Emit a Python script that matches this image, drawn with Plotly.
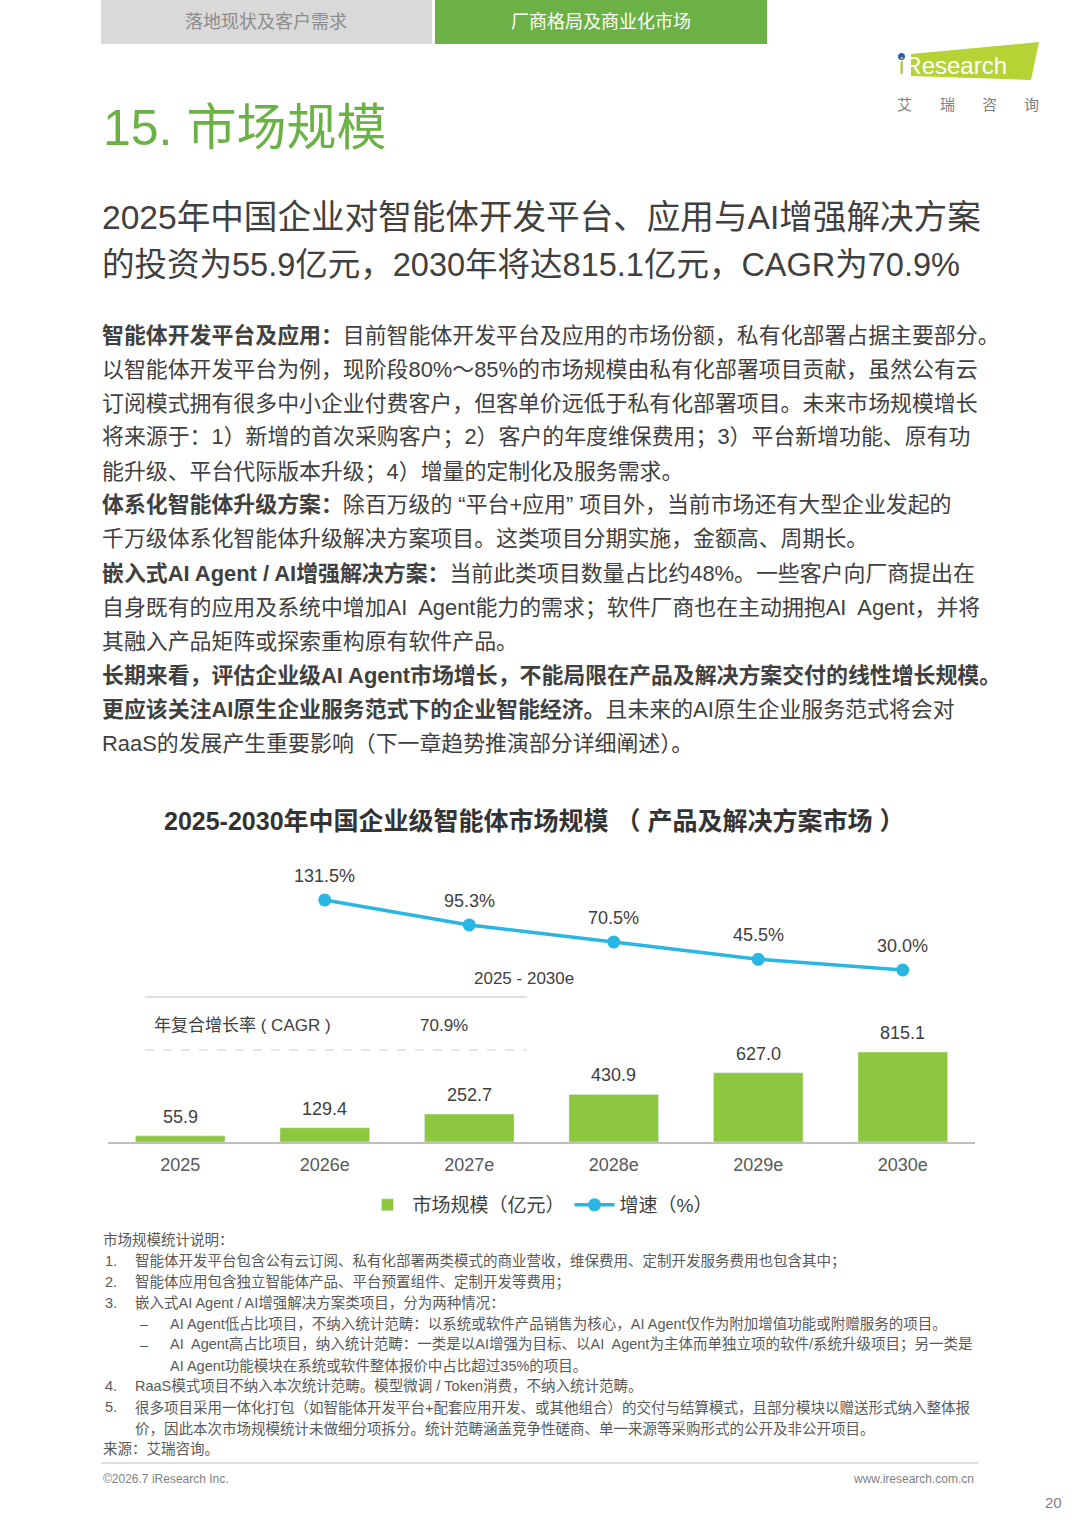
# =============================================================
# 市場規模ページ（iResearch 風レポート）を plotly で 1 枚に再現する
# =============================================================
# ページ全体を 1080x1528 の figure にして、本文はすべて annotation、
# グラフ部分は棒（市場規模）＋折れ線（増速）の 2 軸構成で描く。
# =============================================================

import plotly.graph_objects as go

PAGE_W = 1080
PAGE_H = 1528

# --- データ -------------------------------------------------
years = ["2025", "2026e", "2027e", "2028e", "2029e", "2030e"]
market_size = [55.9, 129.4, 252.7, 430.9, 627.0, 815.1]       # 亿元
growth_rate = [None, 131.5, 95.3, 70.5, 45.5, 30.0]           # %
cagr_period = "2025 - 2030e"
cagr_label = "年复合增长率 ( CAGR )"
cagr_value = 70.9

bar_name = "市场规模（亿元）"
line_name = "增速（%）"
chart_title = "2025-2030年中国企业级智能体市场规模 （ 产品及解决方案市场 ）"

tab_labels = ["落地现状及客户需求", "厂商格局及商业化市场"]
page_title = "15. 市场规模"
headline = [
    "2025年中国企业对智能体开发平台、应用与AI增强解决方案",
    "的投资为55.9亿元，2030年将达815.1亿元，CAGR为70.9%",
]
body_lines = [
    "<b>智能体开发平台及应用：</b>目前智能体开发平台及应用的市场份额，私有化部署占据主要部分。",
    "以智能体开发平台为例，现阶段80%～85%的市场规模由私有化部署项目贡献，虽然公有云",
    "订阅模式拥有很多中小企业付费客户，但客单价远低于私有化部署项目。未来市场规模增长",
    "将来源于：1）新增的首次采购客户；2）客户的年度维保费用；3）平台新增功能、原有功",
    "能升级、平台代际版本升级；4）增量的定制化及服务需求。",
    "<b>体系化智能体升级方案：</b>除百万级的 “平台+应用” 项目外，当前市场还有大型企业发起的",
    "千万级体系化智能体升级解决方案项目。这类项目分期实施，金额高、周期长。",
    "<b>嵌入式AI Agent / AI增强解决方案：</b>当前此类项目数量占比约48%。一些客户向厂商提出在",
    "自身既有的应用及系统中增加AI  Agent能力的需求；软件厂商也在主动拥抱AI  Agent，并将",
    "其融入产品矩阵或探索重构原有软件产品。",
    "<b>长期来看，评估企业级AI Agent市场增长，不能局限在产品及解决方案交付的线性增长规模。</b>",
    "<b>更应该关注AI原生企业服务范式下的企业智能经济。</b>且未来的AI原生企业服务范式将会对",
    "RaaS的发展产生重要影响（下一章趋势推演部分详细阐述）。",
]
# (番号, 本文, インデント種別)
note_lines = [
    ("1.", "智能体开发平台包含公有云订阅、私有化部署两类模式的商业营收，维保费用、定制开发服务费用也包含其中；", "num"),
    ("2.", "智能体应用包含独立智能体产品、平台预置组件、定制开发等费用；", "num"),
    ("3.", "嵌入式AI Agent / AI增强解决方案类项目，分为两种情况：", "num"),
    ("–", "AI Agent低占比项目，不纳入统计范畴：以系统或软件产品销售为核心，AI Agent仅作为附加增值功能或附赠服务的项目。", "dash"),
    ("–", "AI  Agent高占比项目，纳入统计范畴：一类是以AI增强为目标、以AI  Agent为主体而单独立项的软件/系统升级项目；另一类是", "dash"),
    ("", "AI Agent功能模块在系统或软件整体报价中占比超过35%的项目。", "dash"),
    ("4.", "RaaS模式项目不纳入本次统计范畴。模型微调 / Token消费，不纳入统计范畴。", "num"),
    ("5.", "很多项目采用一体化打包（如智能体开发平台+配套应用开发、或其他组合）的交付与结算模式，且部分模块以赠送形式纳入整体报", "num"),
    ("", "价，因此本次市场规模统计未做细分项拆分。统计范畴涵盖竞争性磋商、单一来源等采购形式的公开及非公开项目。", "num"),
]

# --- 色・フォント ---------------------------------------------
FONT = "Liberation Sans, Noto Sans CJK SC, sans-serif"
GREEN = "#6BB146"
BAR_GREEN = "#8DC63F"
LINE_BLUE = "#29B6E3"
TEXT = "#404040"
NOTE = "#595959"
GRAY = "#7F7F7F"
RULE = "#BFBFBF"


def px(x):
    return x / PAGE_W


def py(y):
    return 1 - y / PAGE_H


fig = go.Figure()


def add_text(x, y, text, size=21, color=TEXT, xanchor="left"):
    """ページ座標 (px) で文字を置く。"""
    fig.add_annotation(
        x=px(x), y=py(y), xref="paper", yref="paper",
        text=text, showarrow=False, xanchor=xanchor, yanchor="middle",
        font=dict(family=FONT, size=size, color=color),
    )


def add_rule(x0, x1, y, dash="solid", color=RULE, width=1.2):
    fig.add_shape(
        type="line", xref="paper", yref="paper",
        x0=px(x0), x1=px(x1), y0=py(y), y1=py(y),
        line=dict(color=color, width=width, dash=dash),
    )


# =============================================================
# グラフ: 棒（市場規模）＋ 折れ線（増速）
# =============================================================
fig.add_trace(go.Bar(
    x=years, y=market_size, name=bar_name,
    marker=dict(color=BAR_GREEN), yaxis="y",
))
fig.add_trace(go.Scatter(
    x=years, y=growth_rate, name=line_name, yaxis="y2",
    mode="lines+markers",
    line=dict(color=LINE_BLUE, width=3.5),
    marker=dict(color=LINE_BLUE, size=13),
))

# 値ラベル。カテゴリ軸で "2025" を渡すと数値扱いされるので位置番号で指定する
for i, v in enumerate(market_size):
    fig.add_annotation(
        x=i, y=v, xref="x", yref="y", text=f"{v:.1f}", showarrow=False,
        yshift=19, yanchor="middle", font=dict(family=FONT, size=18, color=TEXT),
    )
for i, v in enumerate(growth_rate):
    if v is None:
        continue
    fig.add_annotation(
        x=i, y=v, xref="x", yref="y2", text=f"{v:.1f}%", showarrow=False,
        yshift=24, yanchor="middle", font=dict(family=FONT, size=18, color=TEXT),
    )

# 棒と線の軸（両方とも非表示、位置合わせのためだけに範囲を固定）
chart_domain = [py(1142), py(860)]
fig.update_layout(
    xaxis=dict(
        domain=[px(108), px(975)], type="category", range=[-0.5, 5.5],
        showline=True, linecolor=RULE, linewidth=1.5, showgrid=False,
        ticks="", ticklabelstandoff=6,
        tickfont=dict(family=FONT, size=18, color="#595959"),
    ),
    yaxis=dict(domain=chart_domain, range=[0, 2554], visible=False),
    yaxis2=dict(overlaying="y", range=[-219.3, 189.4], visible=False),
    bargap=0.38,
)

# CAGR の小さな表
add_text(472, 979, cagr_period, size=17)
add_rule(145, 527, 997)
add_text(152, 1025, cagr_label, size=17, xanchor="left")
add_text(444, 1025, f"{cagr_value:.1f}%", size=17, xanchor="center")
add_rule(145, 527, 1050, dash="dash", color="#D0D0D0")

add_text(534, 821, f"<b>{chart_title}</b>", size=25, color="#333333", xanchor="center")

# =============================================================
# ページの装飾と本文
# =============================================================
# 上部タブ
fig.add_shape(type="rect", xref="paper", yref="paper",
              x0=px(101), x1=px(432), y0=py(44), y1=py(0),
              fillcolor="#D9D9D9", line=dict(width=0))
fig.add_shape(type="rect", xref="paper", yref="paper",
              x0=px(435), x1=px(767), y0=py(44), y1=py(0),
              fillcolor=GREEN, line=dict(width=0))
add_text(266, 22, tab_labels[0], size=18, color="#8C8C8C", xanchor="center")
add_text(601, 22, tab_labels[1], size=18, color="white", xanchor="center")

# ロゴ（iResearch）
fig.add_shape(
    type="path", xref="paper", yref="paper",
    path=(f"M {px(911)},{py(54)} L {px(1039)},{py(42)} "
          f"L {px(1031)},{py(80)} L {px(911)},{py(76)} Z"),
    fillcolor="#B5D334", line=dict(width=0),
)
add_text(897, 66, "<span style='color:#A8C73A'>i</span>Research", size=24, color="white")
fig.add_shape(type="circle", xref="paper", yref="paper",
              x0=px(898), x1=px(905), y0=py(60), y1=py(53),
              fillcolor="#2D5DA8", line=dict(width=0))
for i, ch in enumerate("艾瑞咨询"):
    add_text(905 + 42 * i, 104, ch, size=15, color=GRAY, xanchor="center")

# タイトルと見出し
add_text(101, 128, page_title, size=50, color=GREEN)
add_text(100, 217, headline[0], size=33.6)
add_text(100, 265, headline[1], size=32.5)

# 本文（行ごとに配置して行間を合わせる）
for i, line in enumerate(body_lines):
    add_text(100, 335 + 34 * i, line, size=21.9)

# 注記
add_text(101, 1240, "市场规模统计说明：", size=14.5, color=NOTE)
for i, (mark, text, kind) in enumerate(note_lines):
    y = 1261 + 20.9 * i
    if kind == "num":
        if mark:
            add_text(103, y, mark, size=14.5, color=NOTE)
        add_text(133, y, text, size=14.5, color=NOTE)
    else:
        if mark:
            add_text(138, y, mark, size=14.5, color=NOTE)
        add_text(168, y, text, size=14.5, color=NOTE)
add_text(101, 1449, "来源：艾瑞咨询。", size=14.5, color=NOTE)

# フッター
add_rule(101, 978, 1463)
add_text(101, 1479, "©2026.7 iResearch Inc.", size=12, color=GRAY)
add_text(976, 1479, "www.iresearch.com.cn", size=12, color=GRAY, xanchor="right")
add_text(1053, 1502, "20", size=15, color=GRAY, xanchor="center")

fig.update_layout(
    width=PAGE_W, height=PAGE_H,
    margin=dict(l=0, r=0, t=0, b=0),
    plot_bgcolor="white", paper_bgcolor="white",
    font=dict(family=FONT, color=TEXT),
    showlegend=True,
    legend=dict(
        orientation="h", x=0.5, xanchor="center", y=py(1205), yanchor="middle",
        font=dict(family=FONT, size=19, color=TEXT),
        itemwidth=40, bgcolor="rgba(0,0,0,0)",
    ),
)

# ブラウザ既定の body の余白 (8px) を消して、ページ座標とそろえる
# モードバーは資料に不要なので非表示
fig.write_html(
    "out.html",
    config={"displayModeBar": False},
    post_script="document.body.style.margin = '0';",
)
